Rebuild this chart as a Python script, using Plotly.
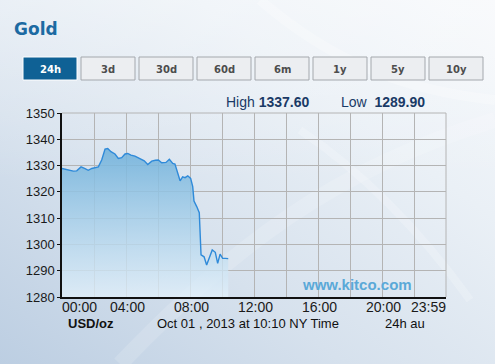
import base64
import plotly.graph_objects as go

# ---------------- data ----------------
HOURS = [0.00, 0.35, 0.71, 0.92, 1.19, 1.44, 1.64, 1.86, 2.06, 2.27, 2.48, 2.69, 2.86,
         3.06, 3.31, 3.52, 3.73, 3.94, 4.11, 4.31, 4.56, 4.88, 5.14, 5.36, 5.61, 5.83,
         6.02, 6.23, 6.50, 6.71, 6.92, 7.06, 7.17, 7.38, 7.54, 7.69, 7.86, 8.04, 8.17,
         8.25, 8.42, 8.58, 8.69, 8.88, 9.04, 9.21, 9.39, 9.58, 9.73, 9.88, 10.04, 10.21, 10.39]
PRICES = [1328.9, 1328.5, 1327.9, 1328.0, 1329.5, 1328.8, 1328.2, 1328.9, 1329.2, 1329.5,
          1332.1, 1336.3, 1336.5, 1335.3, 1334.4, 1332.7, 1333.0, 1334.4, 1334.6, 1334.0,
          1333.6, 1332.7, 1331.8, 1330.4, 1331.7, 1332.0, 1332.1, 1331.1, 1331.2, 1332.4,
          1330.8, 1330.6, 1328.3, 1324.2, 1325.7, 1325.4, 1326.1, 1325.1, 1322.0, 1316.5,
          1314.4, 1312.1, 1296.0, 1295.3, 1292.2, 1295.3, 1297.9, 1297.0, 1292.8, 1296.3,
          1294.7, 1294.7, 1294.6]
X_TICK_HOURS = [0, 4, 8, 12, 16, 20, 24]
X_TICK_LABELS = ["00:00", "04:00", "08:00", "12:00", "16:00", "20:00", "23:59"]
Y_TICKS = [1280, 1290, 1300, 1310, 1320, 1330, 1340, 1350]
BUTTON_LABELS = ["24h", "3d", "30d", "60d", "6m", "1y", "5y", "10y"]
HIGH = "1337.60"
LOW = "1289.90"
TITLE = "Gold"
UNIT = "USD/oz"
TIMESTAMP = "Oct 01 , 2013 at 10:10 NY Time"
PERIOD_NOTE = "24h au"
WATERMARK = "www.kitco.com"

# ---------------- geometry helpers ----------------
W, H = 495, 364
L, R, T, B = 62, 49, 113, 67
PW, PH = W - L - R, H - T - B


def px(x):
    return (x - L) / PW


def py(y):
    return 1 - (y - T) / PH


# background (soft blue gradient) as inline SVG
svg = f'''<svg xmlns="http://www.w3.org/2000/svg" width="{W}" height="{H}" viewBox="0 0 {W} {H}">
<defs>
<linearGradient id="g" x1="0" y1="1" x2="1" y2="0">
<stop offset="0" stop-color="#bccee2"/>
<stop offset="0.35" stop-color="#d6e1ed"/>
<stop offset="0.7" stop-color="#eaf0f6"/>
<stop offset="1" stop-color="#f6f8fb"/>
</linearGradient>
<linearGradient id="h" x1="0" y1="0" x2="0" y2="1">
<stop offset="0" stop-color="#ffffff" stop-opacity="0.35"/>
<stop offset="0.5" stop-color="#ffffff" stop-opacity="0"/>
</linearGradient>
</defs>
<rect width="{W}" height="{H}" fill="url(#g)"/>
<rect width="{W}" height="{H}" fill="url(#h)"/>
<path d="M120 364 C 230 250, 330 170, 495 120" stroke="#ffffff" stroke-opacity="0.15" stroke-width="16" fill="none"/>
<path d="M260 0 C 330 60, 400 90, 495 100" stroke="#ffffff" stroke-opacity="0.25" stroke-width="10" fill="none"/>
<path d="M300 130 C 360 170, 420 230, 470 300" stroke="#ffffff" stroke-opacity="0.2" stroke-width="8" fill="none"/>
</svg>'''
bg_uri = "data:image/svg+xml;base64," + base64.b64encode(svg.encode()).decode()

fig = go.Figure()

fig.add_trace(go.Scatter(
    x=HOURS, y=PRICES, mode="lines",
    line=dict(color="#2f8ad9", width=1.4),
    fill="tozeroy",
    fillgradient=dict(type="vertical", start=1280, stop=1337,
                      colorscale=[[0, "rgba(226,240,250,0.75)"],
                                  [1, "rgba(110,176,218,0.88)"]]),
    hoverinfo="skip", showlegend=False,
))

shapes = []
annotations = []

# buttons
for i, lab in enumerate(BUTTON_LABELS):
    x0 = 23 + i * 58
    x1 = x0 + 54
    active = (i == 0)
    shapes.append(dict(
        type="rect", xref="paper", yref="paper",
        x0=px(x0), x1=px(x1), y0=py(80), y1=py(57),
        fillcolor="#0f6195" if active else "#eceef1",
        line=dict(color="#ffffff" if active else "#a4a8ad", width=1),
        layer="above"))
    annotations.append(dict(
        text=f"<b>{lab}</b>", xref="paper", yref="paper",
        x=px((x0 + x1) / 2), y=py(69), showarrow=False,
        xanchor="center", yanchor="middle",
        font=dict(family="DejaVu Sans", size=10,
                  color="#ffffff" if active else "#4d4d4d")))

# title
annotations.append(dict(
    text=f"<b>{TITLE}</b>", xref="paper", yref="paper", x=px(12), y=py(29),
    xanchor="left", yanchor="middle", showarrow=False,
    font=dict(family="DejaVu Sans", size=17, color="#1c6aa2")))

# high / low
annotations.append(dict(
    text=f"High <b>{HIGH}</b>", xref="paper", yref="paper", x=px(224), y=py(102),
    xanchor="left", yanchor="middle", showarrow=False,
    font=dict(family="Liberation Sans", size=14, color="#1a3a66")))
annotations.append(dict(
    text=f"Low  <b>{LOW}</b>", xref="paper", yref="paper", x=px(339), y=py(102),
    xanchor="left", yanchor="middle", showarrow=False,
    font=dict(family="Liberation Sans", size=14, color="#1a3a66")))

# x tick labels
for hv, lab in zip(X_TICK_HOURS, X_TICK_LABELS):
    anchor = "left" if hv == X_TICK_HOURS[0] else ("right" if hv == X_TICK_HOURS[-1] else "center")
    xshift = -2 if anchor == "left" else (2 if anchor == "right" else 1)
    annotations.append(dict(
        text=lab, xref="x", yref="paper", x=hv, y=py(307),
        xanchor=anchor, yanchor="middle", showarrow=False, xshift=xshift,
        font=dict(family="Liberation Sans", size=14, color="#1a1a1a")))

# bottom captions
annotations.append(dict(
    text=f"<b>{UNIT}</b>", xref="paper", yref="paper", x=px(66), y=py(323),
    xanchor="left", yanchor="middle", showarrow=False,
    font=dict(family="Liberation Sans", size=13, color="#111111")))
annotations.append(dict(
    text=TIMESTAMP, xref="paper", yref="paper", x=px(155), y=py(323),
    xanchor="left", yanchor="middle", showarrow=False,
    font=dict(family="Liberation Sans", size=13, color="#111111")))
annotations.append(dict(
    text=PERIOD_NOTE, xref="paper", yref="paper", x=px(383), y=py(323),
    xanchor="left", yanchor="middle", showarrow=False,
    font=dict(family="Liberation Sans", size=13, color="#111111")))

# watermark
annotations.append(dict(
    text=f"<b>{WATERMARK}</b>", xref="paper", yref="paper", x=px(300), y=py(284),
    xanchor="left", yanchor="middle", showarrow=False,
    font=dict(family="Liberation Sans", size=15, color="#5aa9d8")))

# top / right frame in grid colour
shapes.append(dict(type="line", xref="paper", yref="paper", x0=0, x1=1, y0=1, y1=1,
                   line=dict(color="#b4b4b4", width=1)))
shapes.append(dict(type="line", xref="paper", yref="paper", x0=1, x1=1, y0=0, y1=1,
                   line=dict(color="#b4b4b4", width=1)))

fig.update_layout(
    width=W, height=H,
    margin=dict(l=L, r=R, t=T, b=B, pad=0),
    paper_bgcolor="#e4ebf3",
    plot_bgcolor="rgba(0,0,0,0)",
    images=[dict(source=bg_uri, xref="paper", yref="paper",
                 x=-L / PW, y=1 + T / PH, sizex=W / PW, sizey=H / PH,
                 xanchor="left", yanchor="top", sizing="stretch", layer="below")],
    shapes=shapes,
    annotations=annotations,
    xaxis=dict(range=[0, 24], tickvals=list(range(0, 25, 2)), showticklabels=False,
               showgrid=True, gridcolor="#b4b4b4", gridwidth=1,
               showline=True, linecolor="#111111", linewidth=1.5,
               zeroline=False, ticks="", fixedrange=True),
    yaxis=dict(range=[1280, 1350], tickvals=Y_TICKS,
               showgrid=True, gridcolor="#b4b4b4", gridwidth=1,
               showline=True, linecolor="#111111", linewidth=1.5,
               zeroline=False, ticks="outside", ticklen=3, tickcolor="#111111",
               tickfont=dict(family="Liberation Sans", size=13, color="#1a1a1a"),
               fixedrange=True),
)

fig.write_html("out.html")
